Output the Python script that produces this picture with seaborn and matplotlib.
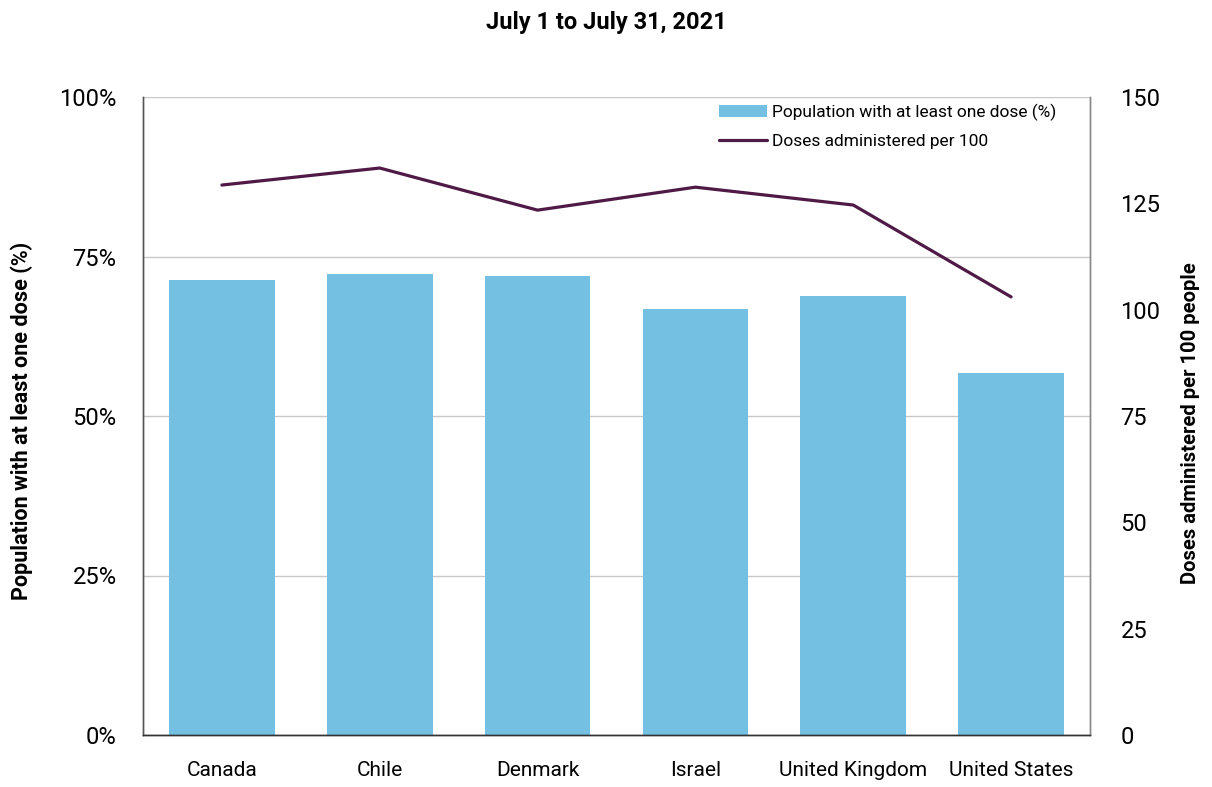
import matplotlib
matplotlib.use("Agg")
import matplotlib.pyplot as plt
import seaborn as sns
import pandas as pd
from matplotlib.patches import Patch
from matplotlib.lines import Line2D
from matplotlib.ticker import FuncFormatter

countries = ["Canada", "Chile", "Denmark", "Israel", "United Kingdom", "United States"]
pct_one_dose = [71.3, 72.3, 71.9, 66.8, 68.8, 56.7]
doses_per_100 = [129.3, 133.3, 123.4, 128.8, 124.6, 103.0]

title = "July 1 to July 31, 2021"
left_label = "Population with at least one dose (%)"
right_label = "Doses administered per 100 people"
bar_legend = "Population with at least one dose (%)"
line_legend = "Doses administered per 100"

sns.set_theme(style="white")
plt.rcParams['font.family'] = ['Roboto', 'DejaVu Sans']
plt.rcParams['font.stretch'] = 'condensed'
plt.rcParams['text.color'] = 'black'
plt.rcParams['axes.labelcolor'] = 'black'

bar_color = "#74C0E2"
line_color = "#4F1A45"

df = pd.DataFrame({"country": countries, "pct": pct_one_dose, "doses": doses_per_100})

W, H = 1212, 787
fig = plt.figure(figsize=(W / 100, H / 100), dpi=100)
ax = fig.add_axes([143 / W, 1 - 735 / H, (1090 - 143) / W, (735 - 97) / H])

sns.barplot(data=df, x="country", y="pct", color=bar_color, width=0.67, ax=ax,
            saturation=1, edgecolor="none")
ax.set_ylim(0, 100)
ax.set_xlim(-0.5, 5.5)
ax.set_yticks([0, 25, 50, 75, 100])
ax.yaxis.set_major_formatter(FuncFormatter(lambda v, p: f"{int(v)}%"))
ax.grid(axis="y", color="#c8c8c8", linewidth=1)
ax.set_axisbelow(True)
ax.set_xlabel("")
ax.set_ylabel("")
ax.tick_params(axis="x", length=0, labelsize=15, colors="black", pad=19)
ax.tick_params(axis="y", length=0, labelsize=17, colors="black", pad=19)

ax2 = ax.twinx()
sns.lineplot(x=list(range(len(countries))), y=doses_per_100, color=line_color,
             linewidth=2.3, ax=ax2, sort=False)
ax2.set_ylim(0, 150)
ax2.set_yticks([0, 25, 50, 75, 100, 125, 150])
ax2.set_ylabel("")
ax2.tick_params(axis="y", length=0, labelsize=17, pad=22, colors="black")

for a in (ax, ax2):
    a.spines["top"].set_visible(False)
    a.spines["left"].set_color("#555555")
    a.spines["bottom"].set_color("#333333")
    a.spines["right"].set_color("#888888")
    for s in a.spines.values():
        s.set_linewidth(1)

fig.text(22 / W, 1 - 421 / H, left_label, rotation=90, ha="center", va="center",
         fontsize=15.5, fontweight="bold", color="black")
fig.text(1191 / W, 1 - 423 / H, right_label, rotation=90, ha="center", va="center",
         fontsize=14.5, fontweight="bold", color="black")

handles = [Patch(facecolor=bar_color, edgecolor="none"),
           Line2D([0], [0], color=line_color, linewidth=2.3)]
ax2.legend(handles, [bar_legend, line_legend], loc="upper right", frameon=False,
           fontsize=12.5, bbox_to_anchor=(1056 / W, 1 - 104 / H), bbox_transform=fig.transFigure,
           borderpad=0, borderaxespad=0, handlelength=2.8, handletextpad=0.25,
           labelspacing=0.75, labelcolor="black")

fig.text(0.5, 1 - 22 / H, title, ha="center", va="center", fontsize=17,
         fontweight="bold", color="black")

fig.savefig("out.png", dpi=100)
